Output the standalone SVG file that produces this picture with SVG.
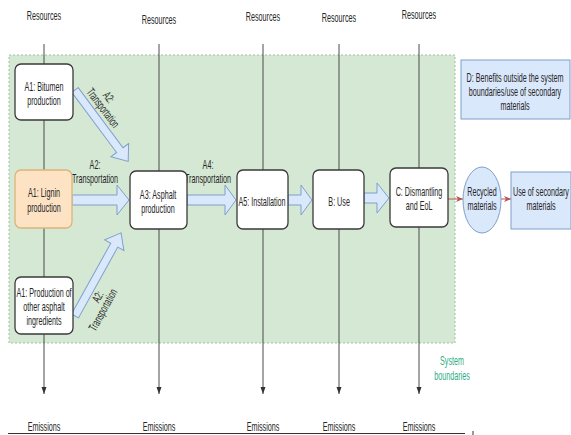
<svg xmlns="http://www.w3.org/2000/svg" width="571" height="435" viewBox="0 0 571 435">
<defs>
<style>
.t{font-family:"Liberation Sans",Arial,sans-serif;font-size:12px;fill:#262626;text-anchor:middle;transform-box:fill-box;transform-origin:center;transform:scaleX(0.6);}
.box{fill:#ffffff;stroke:#3a3a3a;stroke-width:1.3;}
.blk{fill:#dae8fc;stroke:#7f9fcc;stroke-width:1;}
.vl{stroke:#4a4a4a;stroke-width:1;fill:none;marker-end:url(#ah);}
.red{stroke:#b85450;stroke-width:1;fill:none;marker-end:url(#rh);}
</style>
<marker id="ah" markerUnits="userSpaceOnUse" markerWidth="8" markerHeight="8" refX="7" refY="4" orient="auto">
<path d="M0,1.5 L7,4 L0,6.5 z" fill="#333"/>
</marker>
<marker id="rh" markerUnits="userSpaceOnUse" markerWidth="8" markerHeight="8" refX="7" refY="4" orient="auto">
<path d="M0,1 L7,4 L0,7 L2,4 z" fill="#b85450"/>
</marker>
</defs>
<rect width="571" height="435" fill="#ffffff"/>
<g id="system-boundary">
<rect x="9" y="55" width="446" height="288" fill="#d5e8d4" stroke="#9cc59a" stroke-width="1" stroke-dasharray="2,2"/>
<text class="t" x="452" y="365" style="fill:#2fae86">System</text>
<text class="t" x="452" y="380" style="fill:#2fae86">boundaries</text>
</g>
<g id="connectors">
<line class="vl" x1="44" y1="44" x2="44" y2="394"/>
<line class="vl" x1="159" y1="44" x2="159" y2="394"/>
<line class="vl" x1="263" y1="44" x2="263" y2="394"/>
<line class="vl" x1="339" y1="44" x2="339" y2="394"/>
<line class="vl" x1="419" y1="44" x2="419" y2="394"/>
<polygon class="blk" points="72,195 117,195 117,185 129,200 117,215 117,205 72,205"/>
<polygon class="blk" points="187,195 225,195 225,185 236,200 225,215 225,205 187,205"/>
<polygon class="blk" points="288,195 301,195 301,185 312,200 301,215 301,205 288,205"/>
<polygon class="blk" points="364,193 377,193 377,183 389,198 377,213 377,203 364,203"/>
<g transform="translate(75,90) rotate(53.3)"><polygon class="blk" points="0,-4 75,-4 75,-11 89,0 75,11 75,4 0,4"/></g>
<g transform="translate(75,316) rotate(-61)"><polygon class="blk" points="0,-4 81,-4 81,-11 95,0 81,11 81,4 0,4"/></g>
<line class="red" x1="448" y1="199" x2="463" y2="199"/>
<line class="red" x1="501" y1="199" x2="511" y2="199"/>
<line x1="8" y1="433.5" x2="465" y2="433.5" stroke="#333" stroke-width="1"/>
<line x1="473" y1="431" x2="473" y2="435" stroke="#333" stroke-width="1"/>
<text class="t" x="95" y="169">A2:</text>
<text class="t" x="95" y="183">Transportation</text>
<text class="t" x="208" y="169">A4:</text>
<text class="t" x="208" y="183">Transportation</text>
<g transform="translate(103,108) rotate(53)">
<text class="t" x="-5" y="-7">A2:</text>
</g>
<g transform="translate(103,108) rotate(53)">
<text class="t" x="0" y="4">Transportation</text>
</g>
<g transform="translate(103,310) rotate(-61)">
<text class="t" x="9" y="-7">A2:</text>
</g>
<g transform="translate(103,310) rotate(-61)">
<text class="t" x="0" y="4">Transportation</text>
</g>
</g>
<g id="labels">
<text class="t" x="44" y="20">Resources</text>
<text class="t" x="159" y="24">Resources</text>
<text class="t" x="263" y="21">Resources</text>
<text class="t" x="339" y="22">Resources</text>
<text class="t" x="419" y="19">Resources</text>
<text class="t" x="44" y="431">Emissions</text>
<text class="t" x="159" y="431">Emissions</text>
<text class="t" x="263" y="431">Emissions</text>
<text class="t" x="339" y="431">Emissions</text>
<text class="t" x="419" y="431">Emissions</text>
</g>
<g id="a1-bitumen">
<rect class="box" x="15" y="64" width="58" height="56" rx="6"/>
<text class="t" x="44" y="91">A1: Bitumen</text>
<text class="t" x="44" y="105">production</text>
</g>
<g id="a1-lignin">
<rect x="15" y="170" width="57" height="58" rx="6" fill="#fde3c4" stroke="#dcb47a" stroke-width="1.3"/>
<text class="t" x="44" y="197">A1: Lignin</text>
<text class="t" x="44" y="212">production</text>
</g>
<g id="a1-other">
<rect class="box" x="15" y="277" width="58" height="57" rx="6"/>
<text class="t" x="44" y="297">A1: Production of</text>
<text class="t" x="44" y="311">other asphalt</text>
<text class="t" x="44" y="325">ingredients</text>
</g>
<g id="a3">
<rect class="box" x="130" y="171" width="57" height="58" rx="6"/>
<text class="t" x="158" y="199">A3: Asphalt</text>
<text class="t" x="158" y="213">production</text>
</g>
<g id="a5">
<rect class="box" x="237" y="170" width="51" height="59" rx="6"/>
<text class="t" x="262" y="206">A5: Installation</text>
</g>
<g id="b">
<rect class="box" x="313" y="170" width="51" height="59" rx="6"/>
<text class="t" x="339" y="206">B: Use</text>
</g>
<g id="c">
<rect class="box" x="390" y="168" width="58" height="59" rx="6"/>
<text class="t" x="419" y="196">C: Dismantling</text>
<text class="t" x="419" y="210">and EoL</text>
</g>
<g id="recycled">
<ellipse cx="482" cy="200" rx="19" ry="33" fill="#dae8fc" stroke="#7f9fcc" stroke-width="1"/>
<text class="t" x="482" y="196">Recycled</text>
<text class="t" x="482" y="210">materials</text>
</g>
<g id="use-secondary">
<rect x="511" y="172" width="60" height="57" fill="#dae8fc" stroke="#7f9fcc" stroke-width="1"/>
<text class="t" x="541" y="196">Use of secondary</text>
<text class="t" x="541" y="210">materials</text>
</g>
<g id="d-benefits">
<rect x="461" y="60" width="109" height="59" fill="#dae8fc" stroke="#7f9fcc" stroke-width="1"/>
<text class="t" x="515" y="82">D: Benefits outside the system</text>
<text class="t" x="515" y="96">boundaries/use of secondary</text>
<text class="t" x="515" y="110">materials</text>
</g>
</svg>
